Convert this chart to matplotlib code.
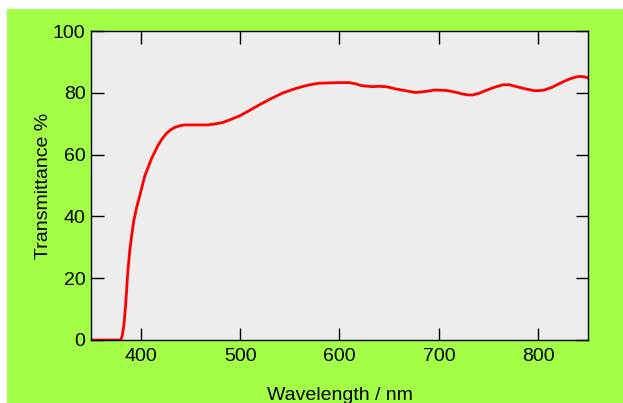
import numpy as np
import matplotlib
matplotlib.use("Agg")
import matplotlib.pyplot as plt
from matplotlib.patches import Rectangle

plt.rcParams['font.family'] = ['Liberation Sans', 'DejaVu Sans']

# values
wavelength = [350, 370, 380, 381.5, 383, 385, 387, 389, 391, 393, 396, 399.3,
              404, 411, 417.6, 422, 426, 430, 434.3, 439, 444, 455, 467.6, 474.3,
              482.6, 490, 499.3, 509, 519.3, 531, 542.6, 555, 566, 572, 579.3,
              589.3, 599.3, 609.3, 615, 622.6, 632.6, 640, 645.9, 651, 656, 666,
              676, 686, 696, 706, 712, 718, 724, 729.3, 734, 740, 746, 755,
              764.3, 771, 779.3, 788, 796, 801, 806, 814, 822.6, 830, 837.6,
              842, 846, 850]
transmittance = [0, 0, 0, 1.5, 4.5, 12, 22, 29, 34, 38.5, 43, 47,
                 53, 58.8, 63.1, 65.3, 66.9, 68.0, 68.8, 69.3, 69.6, 69.6, 69.6, 69.9,
                 70.4, 71.3, 72.5, 74.2, 76.1, 78.1, 79.9, 81.3, 82.3, 82.7, 83.1,
                 83.2, 83.3, 83.3, 83.0, 82.3, 82.0, 82.1, 82.0, 81.7, 81.3, 80.7,
                 80.1, 80.4, 80.9, 80.8, 80.5, 80.1, 79.6, 79.3, 79.3, 79.8, 80.6, 81.7,
                 82.6, 82.6, 81.9, 81.2, 80.7, 80.7, 80.9, 81.8, 83.2, 84.3, 85.1,
                 85.3, 85.2, 84.8]

xticks = [400, 500, 600, 700, 800]
yticks = [0, 20, 40, 60, 80, 100]

fig = plt.figure(figsize=(6.23, 4.03), dpi=100)
fig.patch.set_facecolor('white')
green = Rectangle((7 / 623, 0), 1, (403 - 9) / 403,
                  transform=fig.transFigure, facecolor='#a3ff45',
                  edgecolor='none', zorder=-10)
fig.patches.append(green)

ax = fig.add_axes([91 / 623, 63 / 403, 497 / 623, 309 / 403])
ax.set_zorder(1)
ax.set_facecolor('#ededed')
ax.plot(wavelength, transmittance, color='red', linewidth=2, solid_joinstyle='round')

ax.set_xlim(350, 850)
ax.set_ylim(0, 100)
ax.set_xticks(xticks)
ax.set_yticks(yticks)
ax.tick_params(direction='in', length=9, width=1, top=True, right=True,
               labelsize=14, colors='black', pad=4)
ax.tick_params(axis='x', pad=6)
for s in ax.spines.values():
    s.set_linewidth(1)
    s.set_color('black')

ax.set_xlabel('Wavelength / nm', fontsize=14)
ax.set_ylabel('Transmittance %', fontsize=14)
ax.xaxis.set_label_coords(0.5, -0.153)
ax.yaxis.set_label_coords(-0.078, 0.5)

fig.savefig('out.png', dpi=100, facecolor=fig.get_facecolor())
